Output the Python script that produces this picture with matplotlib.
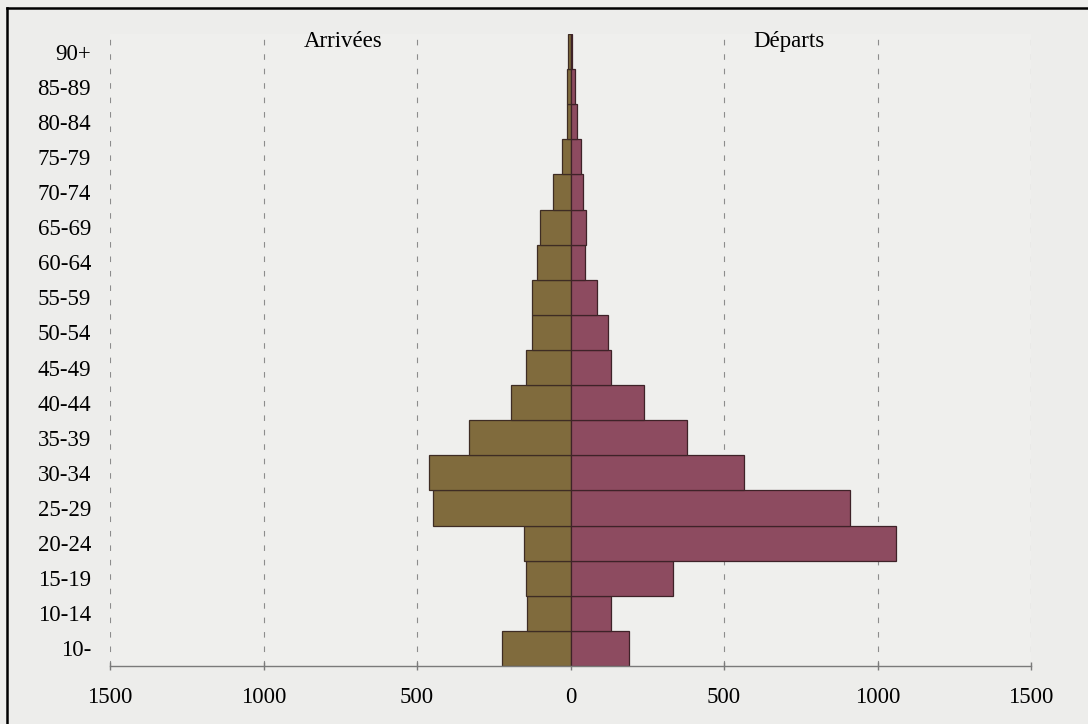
import numpy as np
import matplotlib
matplotlib.use('Agg')
import matplotlib.pyplot as plt
from matplotlib.lines import Line2D

# Age groups, bottom to top
ages = ['10-', '10-14', '15-19', '20-24', '25-29', '30-34', '35-39', '40-44',
        '45-49', '50-54', '55-59', '60-64', '65-69', '70-74', '75-79', '80-84',
        '85-89', '90+']

# Arrivals (left side) and departures (right side)
arrivees = [222, 141, 144, 150, 448, 461, 329, 193, 144, 124, 126, 108, 98, 58, 29, 12, 11, 9]
departs = [190, 133, 334, 1059, 910, 564, 378, 238, 131, 122, 87, 46, 51, 40, 33, 22, 15, 5]

xticks = [-1500, -1000, -500, 0, 500, 1000, 1500]
xticklabels = ['1500', '1000', '500', '0', '500', '1000', '1500']

plt.rcParams['font.family'] = ['Liberation Serif', 'DejaVu Serif']

fig = plt.figure(figsize=(10.88, 7.24), dpi=100)
fig.patch.set_facecolor('#ededeb')
ax = fig.add_axes([110 / 1088, 58 / 724, 921 / 1088, 632 / 724])
ax.set_facecolor('#efefed')

y = np.arange(len(ages))

# Dashed vertical grid lines
for gx in [-1500, -1000, -500, 500, 1000, 1500]:
    ax.axvline(gx, color='#8c8c8c', lw=0.8, dashes=(5, 8), zorder=1)

ax.barh(y, -np.array(arrivees), height=1.0, color='#806b3d',
        edgecolor='#3e2c24', linewidth=0.9, zorder=2)
ax.barh(y, departs, height=1.0, color='#8d4b60',
        edgecolor='#3e2228', linewidth=0.9, zorder=2)

ax.set_xlim(-1500, 1500)
ax.set_ylim(-0.5, len(ages) - 0.5)

ax.set_yticks(y)
ax.set_yticklabels(ages, fontsize=16.5)
ax.tick_params(axis='y', length=0, pad=13.5)

ax.set_xticks(xticks)
ax.set_xticklabels(xticklabels, fontsize=16.5)
ax.tick_params(axis='x', length=6, width=1, color='#7a7a7a', direction='inout', pad=12)

for side in ['top', 'right', 'left']:
    ax.spines[side].set_visible(False)
ax.spines['bottom'].set_color('#7a7a7a')
ax.spines['bottom'].set_linewidth(1)

title_y = len(ages) - 0.5 - 0.2
ax.text(-740, title_y, 'Arrivées', ha='center', va='center', fontsize=16.5)
ax.text(710, title_y, 'Départs', ha='center', va='center', fontsize=16.5)

# Frame of the scanned figure
fig.add_artist(Line2D([7 / 1088, 7 / 1088], [0, 1 - 8 / 724], color='black', lw=1.8))
fig.add_artist(Line2D([7 / 1088, 1], [1 - 8 / 724, 1 - 8 / 724], color='black', lw=1.8))

fig.savefig('out.png', dpi=100, facecolor=fig.get_facecolor())
